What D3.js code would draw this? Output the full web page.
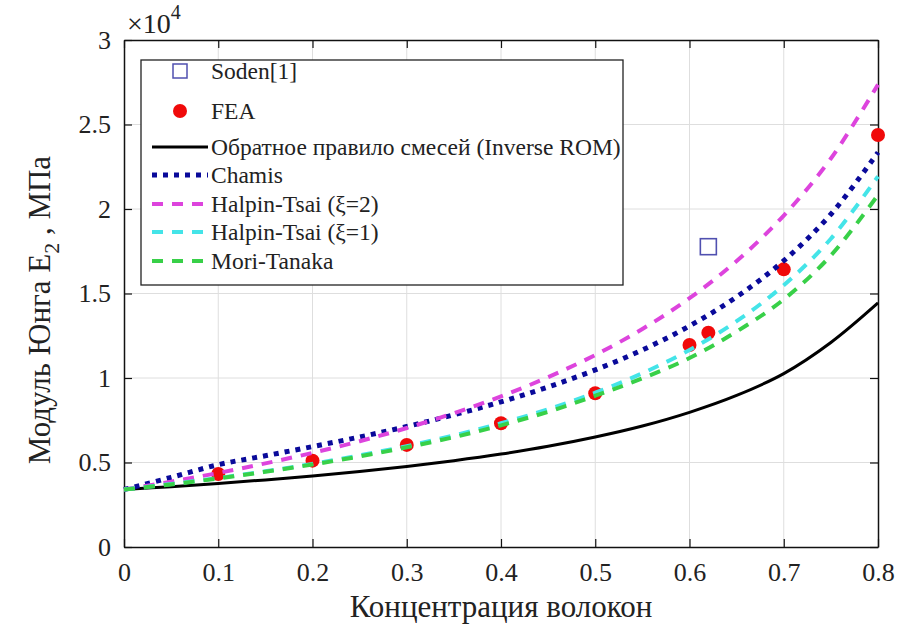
<html>

<head>
    <style>
        body { margin: 0; background: #fff; }
        text { font-family: "Liberation Serif", serif; fill: #222; }
    </style>
</head>

<body>
    <svg id="container" height="630" width="899"></svg>
</body>
<script src="https://cdn.jsdelivr.net/npm/d3@7"></script>
<script>
    // fibre volume fraction
    let vf = [0, 0.05, 0.1, 0.15, 0.2, 0.25, 0.3, 0.35, 0.4, 0.45, 0.5, 0.55, 0.6, 0.65, 0.7, 0.75, 0.8]

    // transverse modulus E2, MPa
    let inverseRom = [3400, 3570, 3760, 3970, 4200, 4470, 4770, 5110, 5500, 5960, 6510, 7160, 7970, 8970, 10260, 12100, 14440]
    let chamis = [3400, 4120, 4870, 5400, 5940, 6510, 7130, 7820, 8590, 9470, 10480, 11660, 13080, 14800, 16940, 19690, 23350]
    let halpin2 = [3400, 3870, 4380, 4950, 5570, 6260, 7040, 7920, 8910, 10050, 11360, 12900, 14720, 16920, 19610, 22990, 27360]
    let halpin1 = [3400, 3730, 4080, 4480, 4920, 5420, 5970, 6600, 7320, 8150, 9130, 10280, 11660, 13360, 15490, 18240, 21930]
    let moriTanaka = [3400, 3700, 4060, 4450, 4880, 5360, 5900, 6500, 7200, 8000, 8950, 9980, 11180, 12750, 14650, 17250, 20830]

    // FEA results and the Soden test point
    let feaX = [0.1, 0.2, 0.3, 0.4, 0.5, 0.6, 0.62, 0.7, 0.8]
    let feaY = [4320, 5110, 6040, 7320, 9100, 11950, 12680, 16430, 24380]
    let sodenX = [0.62]
    let sodenY = [17770]

    let xTicks = [0, 0.1, 0.2, 0.3, 0.4, 0.5, 0.6, 0.7, 0.8]
    let yTicks = [0, 5000, 10000, 15000, 20000, 25000, 30000]

    let svg = d3.select("#container")
    let pLeft = 124, pRight = 878, pTop = 40, pBottom = 547

    let x = d3.scaleLinear().domain([0, 0.8]).range([pLeft, pRight])
    let y = d3.scaleLinear().domain([0, 30000]).range([pBottom, pTop])

    // grid
    svg.append("g").selectAll("line").data(xTicks.slice(1, -1)).enter().append("line")
        .attr("x1", d => x(d)).attr("x2", d => x(d))
        .attr("y1", pTop).attr("y2", pBottom)
        .attr("stroke", "#dedede").attr("stroke-width", 1)
    svg.append("g").selectAll("line").data(yTicks.slice(1, -1)).enter().append("line")
        .attr("x1", pLeft).attr("x2", pRight)
        .attr("y1", d => y(d)).attr("y2", d => y(d))
        .attr("stroke", "#dedede").attr("stroke-width", 1)

    // axes with inward ticks on all four sides
    let fmtY = d => d3.format("~g")(d / 10000)
    let tickFont = 26
    let xBottom = svg.append("g").attr("transform", "translate(0," + pBottom + ")")
        .call(d3.axisBottom(x).tickValues(xTicks).tickSizeInner(-8).tickSizeOuter(0).tickPadding(16).tickFormat(d3.format("~g")))
    let xTop = svg.append("g").attr("transform", "translate(0," + pTop + ")")
        .call(d3.axisTop(x).tickValues(xTicks).tickSizeInner(-8).tickSizeOuter(0).tickFormat(""))
    let yLeft = svg.append("g").attr("transform", "translate(" + pLeft + ",0)")
        .call(d3.axisLeft(y).tickValues(yTicks).tickSizeInner(-8).tickSizeOuter(0).tickPadding(13).tickFormat(fmtY))
    let yRight = svg.append("g").attr("transform", "translate(" + pRight + ",0)")
        .call(d3.axisRight(y).tickValues(yTicks).tickSizeInner(-8).tickSizeOuter(0).tickFormat(""))

    for (let a of [xBottom, xTop, yLeft, yRight]) {
        a.attr("font-family", "Liberation Serif")
        a.select(".domain").attr("stroke", "#111").attr("stroke-width", 1.5)
        a.selectAll(".tick line").attr("stroke", "#111").attr("stroke-width", 1.2)
        a.selectAll("text").attr("font-size", tickFont).attr("fill", "#222")
    }

    // exponent label
    let expo = svg.append("text").attr("x", 127).attr("y", 33).attr("font-size", 28)
    expo.append("tspan").text("×10")
    expo.append("tspan").attr("dy", -14).attr("font-size", 20).text("4")

    // axis titles
    svg.append("text").attr("x", 501).attr("y", 617)
        .attr("text-anchor", "middle").attr("font-size", 31)
        .text("Концентрация волокон")
    let yl = svg.append("text").attr("transform", "translate(50,310) rotate(-90)")
        .attr("text-anchor", "middle").attr("font-size", 31)
    yl.append("tspan").text("Модуль Юнга E")
    yl.append("tspan").attr("dy", 9).attr("font-size", 22).text("2")
    yl.append("tspan").attr("dy", -9).text(" , МПа")

    let plot = svg.append("g")

    // markers
    let fea = feaX.map((d, i) => ({ x: d, y: feaY[i] }))
    let soden = sodenX.map((d, i) => ({ x: d, y: sodenY[i] }))
    plot.selectAll(".soden").data(soden).enter().append("rect")
        .attr("x", d => x(d.x) - 8).attr("y", d => y(d.y) - 8)
        .attr("width", 16).attr("height", 16)
        .attr("fill", "none").attr("stroke", "#5050b0").attr("stroke-width", 1.6)
    plot.selectAll(".fea").data(fea).enter().append("circle")
        .attr("cx", d => x(d.x)).attr("cy", d => y(d.y)).attr("r", 7)
        .attr("fill", "#f00a0a")

    // curves
    let series = [
        { name: "Обратное правило смесей (Inverse ROM)", values: inverseRom, color: "#000", width: 3, dash: null },
        { name: "Chamis", values: chamis, color: "#0a0a9a", width: 5, dash: "5 6" },
        { name: "Halpin-Tsai (ξ=2)", values: halpin2, color: "#dd44dd", width: 4, dash: "11 9" },
        { name: "Halpin-Tsai (ξ=1)", values: halpin1, color: "#44e4e8", width: 4, dash: "11 9" },
        { name: "Mori-Tanaka", values: moriTanaka, color: "#38d048", width: 4, dash: "11 9" }
    ]
    let line = d3.line().x((d, i) => x(vf[i])).y(d => y(d)).curve(d3.curveCatmullRom.alpha(0.5))
    plot.selectAll(".curve").data(series).enter().append("path")
        .attr("d", d => line(d.values))
        .attr("fill", "none")
        .attr("stroke", d => d.color)
        .attr("stroke-width", d => d.width)
        .attr("stroke-dasharray", d => d.dash)

    // legend
    let lg = svg.append("g")
    lg.append("rect").attr("x", 141).attr("y", 60).attr("width", 482).attr("height", 225)
        .attr("fill", "#fff").attr("stroke", "#222").attr("stroke-width", 1.3)
    let rowsY = [71, 111, 147, 175, 204, 232, 261]
    lg.append("rect").attr("x", 173).attr("y", rowsY[0] - 7).attr("width", 14).attr("height", 14)
        .attr("fill", "none").attr("stroke", "#5050b0").attr("stroke-width", 1.5)
    lg.append("circle").attr("cx", 180).attr("cy", rowsY[1]).attr("r", 7).attr("fill", "#f00a0a")
    let names = ["Soden[1]", "FEA"].concat(series.map(d => d.name))
    lg.selectAll(".lt").data(names).enter().append("text")
        .attr("x", 211).attr("y", (d, i) => rowsY[i] + 8)
        .attr("font-size", 23.5)
        .text(d => d)
    lg.selectAll(".ll").data(series).enter().append("line")
        .attr("x1", 152).attr("x2", 208)
        .attr("y1", (d, i) => rowsY[i + 2]).attr("y2", (d, i) => rowsY[i + 2])
        .attr("stroke", d => d.color)
        .attr("stroke-width", d => d.width)
        .attr("stroke-dasharray", d => d.dash)
</script>

</html>
